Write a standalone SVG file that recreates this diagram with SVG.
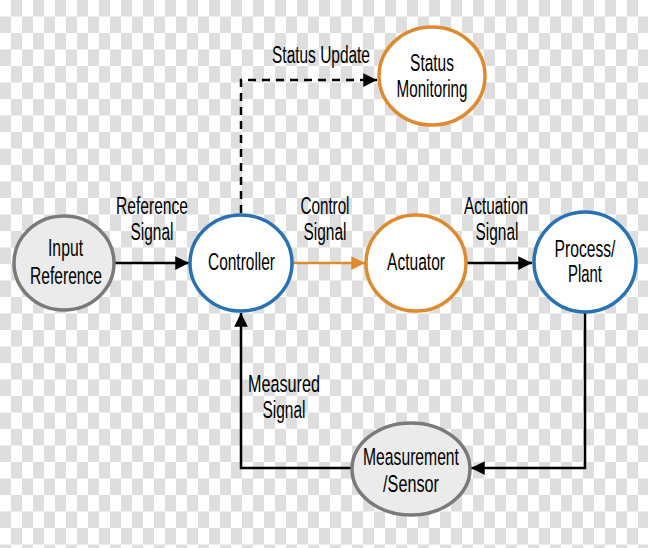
<svg xmlns="http://www.w3.org/2000/svg" width="648" height="548" viewBox="0 0 648 548">
<defs>
<pattern id="chk" width="22" height="33" patternUnits="userSpaceOnUse">
<rect width="22" height="33" fill="#ffffff"/>
<rect x="11" y="0" width="11" height="16.5" fill="#dedede"/>
<rect x="0" y="16.5" width="11" height="16.5" fill="#dedede"/>
</pattern>
<marker id="ah" viewBox="0 0 10 10" refX="10" refY="5" markerWidth="5.5" markerHeight="5.5" markerUnits="strokeWidth" orient="auto">
<path d="M0,0 L10,5 L0,10 Z" fill="#000"/>
</marker>
<marker id="aho" viewBox="0 0 10 10" refX="10" refY="5" markerWidth="5.5" markerHeight="5.5" markerUnits="strokeWidth" orient="auto">
<path d="M0,0 L10,5 L0,10 Z" fill="#e08a2e"/>
</marker>
</defs>
<style>
text{font-family:"Liberation Sans",Arial,sans-serif;font-size:23.5px;fill:#000;text-anchor:middle}
.edge{fill:none;stroke:#000;stroke-width:2.5}
.gray{fill:#ebebeb;stroke:#7a7a7a;stroke-width:3.5}
.blue{fill:#ffffff;stroke:#2872b3;stroke-width:3.5}
.orange{fill:#ffffff;stroke:#e08a2e;stroke-width:3.5}
</style>
<rect width="648" height="548" fill="url(#chk)"/>
<g id="connectors">
<path class="edge" d="M115,263 H189" marker-end="url(#ah)"/>
<path class="edge" d="M293,263 H365" style="stroke:#e08a2e" marker-end="url(#aho)"/>
<path class="edge" d="M467,263 H532" marker-end="url(#ah)"/>
<path class="edge" d="M585,312 V468 H471" marker-end="url(#ah)"/>
<path class="edge" d="M352,468 H241 V313" marker-end="url(#ah)"/>
<path class="edge" d="M241,213 V80 H377" stroke-dasharray="8,6" marker-end="url(#ah)"/>
<text transform="translate(152,214) scale(0.664,1)">Reference</text>
<text transform="translate(152,240) scale(0.658,1)">Signal</text>
<text transform="translate(325,214) scale(0.647,1)">Control</text>
<text transform="translate(325,240) scale(0.658,1)">Signal</text>
<text transform="translate(496,214) scale(0.653,1)">Actuation</text>
<text transform="translate(497,240) scale(0.658,1)">Signal</text>
<text transform="translate(321,63) scale(0.658,1)">Status Update</text>
<text transform="translate(284,392) scale(0.689,1)">Measured</text>
<text transform="translate(284,418) scale(0.658,1)">Signal</text>
</g>
<g id="input">
<ellipse class="gray" cx="64" cy="263" rx="50" ry="47"/>
<text transform="translate(65.5,256) scale(0.67,1)">Input</text>
<text transform="translate(66,284) scale(0.664,1)">Reference</text>
</g>
<g id="controller">
<ellipse class="blue" cx="241" cy="263" rx="51" ry="48"/>
<text transform="translate(241.5,270) scale(0.658,1)">Controller</text>
</g>
<g id="actuator">
<ellipse class="orange" cx="416" cy="263" rx="50" ry="48"/>
<text transform="translate(416,270) scale(0.663,1)">Actuator</text>
</g>
<g id="process">
<ellipse class="blue" cx="585" cy="262" rx="51" ry="50"/>
<text transform="translate(585,257) scale(0.667,1)">Process/</text>
<text transform="translate(585,282) scale(0.635,1)">Plant</text>
</g>
<g id="status">
<ellipse class="orange" cx="432" cy="76" rx="53" ry="49"/>
<text transform="translate(432,71) scale(0.66,1)">Status</text>
<text transform="translate(432,97) scale(0.647,1)">Monitoring</text>
</g>
<g id="sensor">
<ellipse class="gray" cx="411" cy="469" rx="59" ry="46"/>
<text transform="translate(411,465) scale(0.668,1)">Measurement</text>
<text transform="translate(411,492) scale(0.69,1)">/Sensor</text>
</g>
</svg>
